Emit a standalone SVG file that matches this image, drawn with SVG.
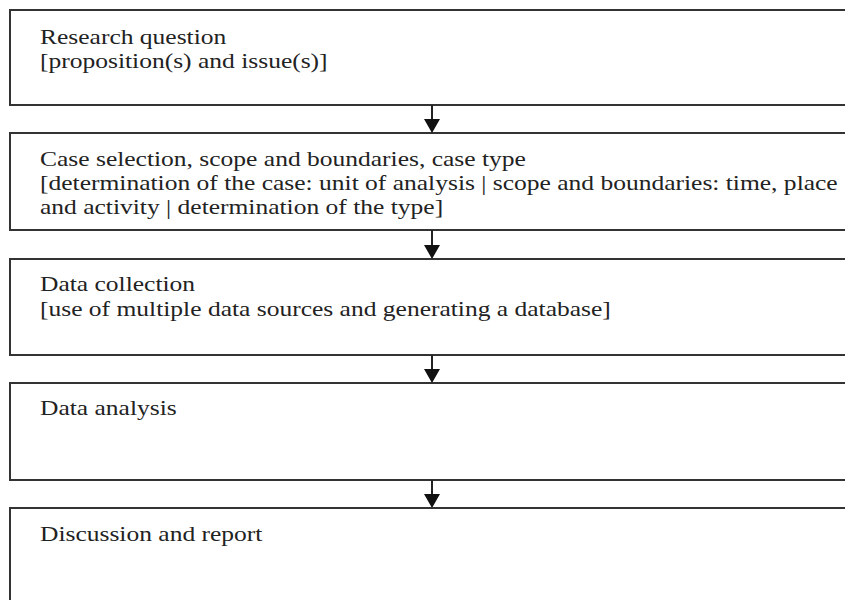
<svg xmlns="http://www.w3.org/2000/svg" width="845" height="600" viewBox="0 0 845 600">
<defs>
<style>
.box{fill:#fff;stroke:#333;stroke-width:2}
.t{font-family:"Liberation Serif","Times New Roman",serif;font-size:22px;fill:#222}
.c{stroke:#222;stroke-width:2;fill:none}
.h{fill:#111;stroke:none}
</style>
</defs>
<rect width="845" height="600" fill="#fff"/>
<g id="n1">
<rect class="box" x="10" y="10" width="850" height="95"/>
<text class="t" transform="translate(40,44) scale(1.16,1)">Research question</text>
<text class="t" transform="translate(40,68) scale(1.16,1)">[proposition(s) and issue(s)]</text>
</g>
<g id="n2">
<rect class="box" x="10" y="133" width="850" height="97"/>
<text class="t" transform="translate(40,166) scale(1.16,1)">Case selection, scope and boundaries, case type</text>
<text class="t" transform="translate(40,190) scale(1.16,1)">[determination of the case: unit of analysis | scope and boundaries: time, place</text>
<text class="t" transform="translate(40,214) scale(1.16,1)">and activity | determination of the type]</text>
</g>
<g id="n3">
<rect class="box" x="10" y="259" width="850" height="96"/>
<text class="t" transform="translate(40,291) scale(1.16,1)">Data collection</text>
<text class="t" transform="translate(40,316) scale(1.16,1)">[use of multiple data sources and generating a database]</text>
</g>
<g id="n4">
<rect class="box" x="10" y="383" width="850" height="97"/>
<text class="t" transform="translate(40,415) scale(1.16,1)">Data analysis</text>
</g>
<g id="n5">
<rect class="box" x="10" y="508" width="850" height="110"/>
<text class="t" transform="translate(40,541) scale(1.16,1)">Discussion and report</text>
</g>
<g id="connectors">
<path class="c" d="M432 105V121M432 230V246M432 355V371M432 480V496"/>
<path class="h" d="M424 119H440L432 133Z M424 245H440L432 259Z M424 369H440L432 383Z M424 494H440L432 508Z"/>
</g>
</svg>
